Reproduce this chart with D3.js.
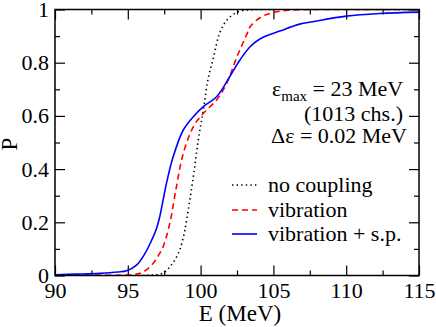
<!DOCTYPE html>
<html lang="en">
<head>
	<meta charset="UTF-8">
	<title>Transmission probability</title>
	<script src="https://cdn.jsdelivr.net/npm/d3@7"></script>
	<style>
		body{
			margin:0;
			background:#fff;
		}
		svg{
			display:block;
			font-family:"Liberation Serif","Times New Roman",serif;
		}
		.axis text{
			font-size:22px;
			font-family:"Liberation Serif","Times New Roman",serif;
			fill:#000;
		}
		.axis line{
			stroke:#000;
			stroke-width:1.2;
		}
		.axis path{
			display:none;
		}
	</style>
</head>
<body>
	<svg id="svg" width="436" height="327"></svg>
	<script>
		// values (E in MeV, P)
		var noCouplingE = [90, 96.5, 97.44, 98.0, 98.47, 98.8, 99.04, 99.5, 99.84, 100.19, 100.5, 100.9, 101.3, 101.8, 102.5, 103.2, 104, 115];
		var noCouplingP = [0, 0.001, 0.01, 0.04, 0.083, 0.14, 0.209, 0.371, 0.509, 0.622, 0.735, 0.823, 0.91, 0.96, 0.99, 0.998, 1, 1];

		var vibrationE = [90, 94, 95.2, 95.84, 96.3, 96.75, 97.21, 97.44, 97.9, 98.36, 98.81, 99.5, 100.19, 101.1, 101.8, 102.5, 103.2, 103.4, 104.1, 104.8, 106, 108, 115];
		var vibrationP = [0.001, 0.001, 0.003, 0.008, 0.022, 0.046, 0.085, 0.11, 0.2, 0.34, 0.459, 0.559, 0.61, 0.66, 0.723, 0.823, 0.91, 0.935, 0.97, 0.986, 0.997, 1, 1];

		var vibSpE = [90, 91.5, 93.09, 94.3, 94.92, 95.6, 96.18, 96.64, 96.98, 97.21, 97.67, 98.12, 98.81, 99.5, 100.19, 101.1, 102.0, 102.7, 103.4, 104.1, 105.5, 106.8, 107.7, 110, 112.3, 115];
		var vibSpP = [0.003, 0.005, 0.008, 0.013, 0.018, 0.039, 0.083, 0.133, 0.178, 0.225, 0.35, 0.447, 0.547, 0.597, 0.635, 0.672, 0.747, 0.81, 0.86, 0.89, 0.92, 0.945, 0.954, 0.975, 0.985, 0.99];

		var xMajor = [90, 95, 100, 105, 110, 115];
		var xMinor = [92.5, 97.5, 102.5, 107.5, 112.5];
		var yMajor = [0, 0.2, 0.4, 0.6, 0.8, 1];
		var yMinor = [0.1, 0.3, 0.5, 0.7, 0.9];
		var yLabels = ["0", "0.2", "0.4", "0.6", "0.8", "1"];

		var legendNames = ["no coupling", "vibration", "vibration + s.p."];

		var svg = d3.select("#svg");
		var mLeft = 55, mRight = 419, mTop = 9.5, mBottom = 275.5;

		var xScale = d3.scaleLinear().domain([90, 115]).range([mLeft, mRight]);
		var yScale = d3.scaleLinear().domain([0, 1]).range([mBottom, mTop]);

		svg.append("clipPath").attr("id", "clip")
			.append("rect")
			.attr("x", mLeft).attr("y", mTop)
			.attr("width", mRight - mLeft).attr("height", mBottom - mTop);

		// axes, ticks inside on every side
		svg.append("g").attr("class", "axis")
			.attr("transform", "translate(0," + mBottom + ")")
			.call(d3.axisBottom(xScale).tickValues(xMajor).tickSize(-10).tickSizeOuter(0).tickPadding(7).tickFormat(d3.format("d")));
		svg.append("g").attr("class", "axis")
			.attr("transform", "translate(0," + mBottom + ")")
			.call(d3.axisBottom(xScale).tickValues(xMinor).tickSize(-5).tickSizeOuter(0).tickFormat(""));
		svg.append("g").attr("class", "axis")
			.attr("transform", "translate(0," + mTop + ")")
			.call(d3.axisTop(xScale).tickValues(xMajor).tickSize(-10).tickSizeOuter(0).tickFormat(""));
		svg.append("g").attr("class", "axis")
			.attr("transform", "translate(0," + mTop + ")")
			.call(d3.axisTop(xScale).tickValues(xMinor).tickSize(-5).tickSizeOuter(0).tickFormat(""));

		svg.append("g").attr("class", "axis")
			.attr("transform", "translate(" + mLeft + ",0)")
			.call(d3.axisLeft(yScale).tickValues(yMajor).tickSize(-10).tickSizeOuter(0).tickPadding(6)
				.tickFormat((d, i) => yLabels[i]));
		svg.append("g").attr("class", "axis")
			.attr("transform", "translate(" + mLeft + ",0)")
			.call(d3.axisLeft(yScale).tickValues(yMinor).tickSize(-5).tickSizeOuter(0).tickFormat(""));
		svg.append("g").attr("class", "axis")
			.attr("transform", "translate(" + mRight + ",0)")
			.call(d3.axisRight(yScale).tickValues(yMajor).tickSize(-10).tickSizeOuter(0).tickFormat(""));
		svg.append("g").attr("class", "axis")
			.attr("transform", "translate(" + mRight + ",0)")
			.call(d3.axisRight(yScale).tickValues(yMinor).tickSize(-5).tickSizeOuter(0).tickFormat(""));

		// curves
		var line = d3.line()
			.x(d => xScale(d[0]))
			.y(d => yScale(d[1]))
			.curve(d3.curveCatmullRom.alpha(0.5));

		var series = [
			{e: noCouplingE, p: noCouplingP, color: "#000", dash: "1.4,3.2"},
			{e: vibrationE, p: vibrationP, color: "#ff0000", dash: "6,4"},
			{e: vibSpE, p: vibSpP, color: "#0000ff", dash: null}
		];

		var plot = svg.append("g").attr("clip-path", "url(#clip)");
		series.forEach(s => {
			plot.append("path")
				.datum(s.e.map((e, i) => [e, s.p[i]]))
				.attr("d", line)
				.attr("fill", "none")
				.attr("stroke", s.color)
				.attr("stroke-width", 1.6)
				.attr("stroke-dasharray", s.dash);
		});

		// frame
		svg.append("rect")
			.attr("x", mLeft).attr("y", mTop)
			.attr("width", mRight - mLeft).attr("height", mBottom - mTop)
			.attr("fill", "none")
			.attr("stroke", "#000")
			.attr("stroke-width", 1.5);

		// axis titles
		svg.append("text")
			.attr("x", 240).attr("y", 321)
			.attr("text-anchor", "middle")
			.attr("font-size", 23)
			.text("E (MeV)");
		svg.append("text")
			.attr("transform", "translate(17,144) rotate(-90)")
			.attr("text-anchor", "middle")
			.attr("font-size", 23)
			.text("P");

		// annotation
		var note = svg.append("text").attr("font-size", 22);
		note.append("tspan").attr("x", 272).attr("y", 96).text("ε");
		note.append("tspan").attr("dy", 5).attr("font-size", 15).text("max");
		note.append("tspan").attr("dy", -5).text(" = 23 MeV");
		svg.append("text").attr("x", 304).attr("y", 121).attr("font-size", 22).text("(1013 chs.)");
		svg.append("text").attr("x", 271).attr("y", 143).attr("font-size", 22).text("Δε = 0.02 MeV");

		// legend
		var legendY = [185, 210, 234];
		var legend = svg.append("g");
		series.forEach((s, i) => {
			legend.append("line")
				.attr("x1", 232).attr("x2", 257)
				.attr("y1", legendY[i]).attr("y2", legendY[i])
				.attr("stroke", s.color)
				.attr("stroke-width", 1.6)
				.attr("stroke-dasharray", s.dash);
			legend.append("text")
				.attr("x", 268).attr("y", legendY[i] + 7)
				.attr("font-size", 22)
				.text(legendNames[i]);
		});
	</script>
</body>
</html>
